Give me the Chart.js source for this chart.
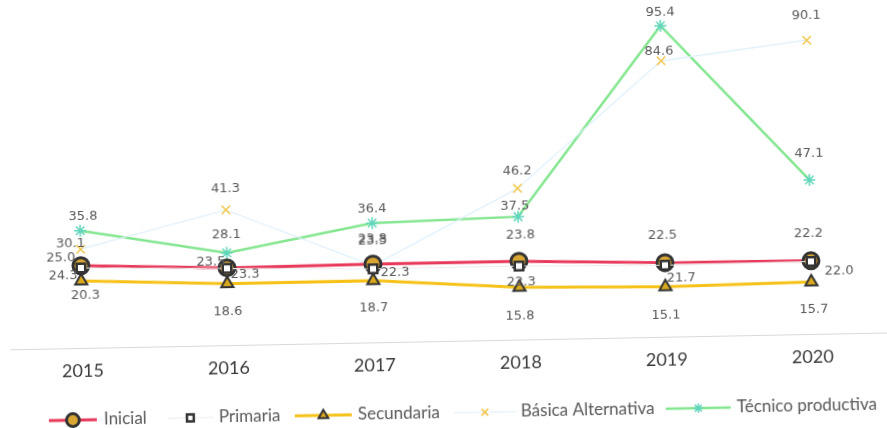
<!DOCTYPE html>
<html>
<head>
<meta charset="utf-8">
<script src="https://cdn.jsdelivr.net/npm/chart.js@4.4.1/dist/chart.umd.min.js"></script>
<style>
    html, body { margin: 0; padding: 0; background: #fff; overflow: hidden; }
    #wrap { width: 887px; height: 428px; }
    /* the reference is a slightly tilted scan */
    #chart { transform: rotate(-1.1deg); transform-origin: 50% 50%; }
</style>
</head>
<body>
<div id="wrap"><canvas id="chart" width="887" height="428"></canvas></div>
<script>
// ────────────────────────────────────────────────
// Data
// ────────────────────────────────────────────────
const years       = ['2015', '2016', '2017', '2018', '2019', '2020'];
const inicial     = [25.0, 23.5, 23.8, 23.8, 22.5, 22.2];
const primaria    = [24.3, 23.3, 22.3, 22.3, 21.7, 22.0];
const secundaria  = [20.3, 18.6, 18.7, 15.8, 15.1, 15.7];
const basicaAlt   = [30.1, 41.3, 23.3, 46.2, 84.6, 90.1];
const tecnicoProd = [35.8, 28.1, 36.4, 37.5, 95.4, 47.1];

const LABEL_FONT = '13px "DejaVu Sans"';
const TEXT_COLOR = '#595959';

// ────────────────────────────────────────────────
// Plugins
// ────────────────────────────────────────────────

// Value labels, each dataset carries its own label offsets [dx, dy]
const valueLabels = {
    id: 'valueLabels',
    afterDatasetsDraw(chart) {
        const ctx = chart.ctx;
        ctx.save();
        ctx.font = LABEL_FONT;
        ctx.fillStyle = TEXT_COLOR;
        ctx.textAlign = 'center';
        ctx.textBaseline = 'middle';
        chart.data.datasets.forEach((ds, i) => {
            const meta = chart.getDatasetMeta(i);
            meta.data.forEach((pt, j) => {
                const off = ds.labelOffsets[j];
                ctx.fillText(ds.data[j].toFixed(1), pt.x + off[0], pt.y + off[1]);
            });
        });
        ctx.restore();
    }
};

// Full-width base line + legend at the bottom
const bottomLegend = {
    id: 'bottomLegend',
    afterDraw(chart) {
        const ctx = chart.ctx;
        const area = chart.chartArea;
        ctx.save();

        ctx.strokeStyle = '#d9d9d9';
        ctx.lineWidth = 1;
        ctx.beginPath();
        ctx.moveTo(8, area.bottom + 1.5);
        ctx.lineTo(887, area.bottom + 1.5);
        ctx.stroke();

        const y = 413;
        ctx.font = '17px Lato';
        ctx.fillStyle = TEXT_COLOR;
        ctx.textBaseline = 'middle';
        chart.data.datasets.forEach(ds => {
            const [x1, x2, tx] = ds.legendAt;
            ctx.strokeStyle = ds.borderColor;
            ctx.lineWidth = ds.borderWidth;
            ctx.beginPath();
            ctx.moveTo(x1, y);
            ctx.lineTo(x2, y);
            ctx.stroke();
            ctx.fillStyle = ds.pointBackgroundColor;
            ctx.strokeStyle = ds.pointBorderColor;
            ctx.lineWidth = ds.pointBorderWidth;
            Chart.helpers.drawPoint(ctx, {
                pointStyle: ds.pointStyle,
                radius: ds.pointRadius * 0.8,
                rotation: 0,
                borderWidth: ds.pointBorderWidth
            }, (x1 + x2) / 2, y);
            ctx.fillStyle = TEXT_COLOR;
            ctx.fillText(ds.label, tx, y);
        });
        ctx.restore();
    }
};

// ────────────────────────────────────────────────
// Chart
// ────────────────────────────────────────────────
const datasets = [
    {
        label: 'Inicial',
        data: inicial,
        borderColor: '#e8395a',
        borderWidth: 3,
        pointStyle: 'circle',
        pointRadius: 8,
        pointBackgroundColor: '#d9a632',
        pointBorderColor: '#333333',
        pointBorderWidth: 3,
        order: 2,
        labelOffsets: [[-20, -8], [-16, -6], [0, -25], [2, -26], [-2, -27], [-2, -27]],
        legendAt: [45, 93, 100]
    },
    {
        label: 'Primaria',
        data: primaria,
        borderColor: '#ececec',
        borderWidth: 1,
        pointStyle: 'rect',
        pointRadius: 6,
        pointBackgroundColor: '#ffffff',
        pointBorderColor: '#333333',
        pointBorderWidth: 2.5,
        order: 0,
        labelOffsets: [[-18, 8], [18, 6], [22, 4], [2, 16], [16, 13], [28, 10]],
        legendAt: [164, 209, 215]
    },
    {
        label: 'Secundaria',
        data: secundaria,
        borderColor: '#f6c21a',
        borderWidth: 3,
        pointStyle: 'triangle',
        pointRadius: 7,
        pointBackgroundColor: '#d9a81e',
        pointBorderColor: '#333333',
        pointBorderWidth: 2,
        order: 1,
        labelOffsets: [[4, 15], [0, 28], [0, 27], [0, 29], [0, 29], [2, 28]],
        legendAt: [291, 348, 354]
    },
    {
        label: 'Básica Alternativa',
        data: basicaAlt,
        borderColor: '#ddeffc',
        borderWidth: 1.2,
        pointStyle: 'crossRot',
        pointRadius: 6,
        pointBackgroundColor: '#f2c64a',
        pointBorderColor: '#f2c64a',
        pointBorderWidth: 1.5,
        order: 3,
        labelOffsets: [[-10, -6], [0, -21], [0, -25], [0, -17], [-2, -9], [0, -25]],
        legendAt: [450, 512, 517]
    },
    {
        label: 'Técnico productiva',
        data: tecnicoProd,
        borderColor: '#84e690',
        borderWidth: 2.5,
        pointStyle: 'star',
        pointRadius: 6,
        pointBackgroundColor: '#62d6bb',
        pointBorderColor: '#62d6bb',
        pointBorderWidth: 1.5,
        order: 4,
        labelOffsets: [[3, -14], [0, -18], [0, -14], [-3, -11], [0, -13], [0, -26]],
        legendAt: [662, 727, 733]
    }
];

new Chart(document.getElementById('chart'), {
    type: 'line',
    data: { labels: years, datasets },
    options: {
        responsive: false,
        animation: false,
        layout: { padding: { left: 80, right: 77, top: 15, bottom: 0 } },
        plugins: {
            legend: { display: false },
            tooltip: { enabled: false },
            title: { display: false }
        },
        elements: { line: { tension: 0 } },
        scales: {
            x: {
                offset: false,
                grid: { display: false, drawTicks: false },
                border: { display: false },
                ticks: {
                    padding: 13,
                    color: '#3a3a3a',
                    font: { family: 'Lato', size: 18 },
                    maxRotation: 0
                },
                afterFit: scale => { scale.height = 88; }
            },
            y: {
                display: false,
                min: 0,
                max: 100
            }
        }
    },
    plugins: [valueLabels, bottomLegend]
});
</script>
</body>
</html>
